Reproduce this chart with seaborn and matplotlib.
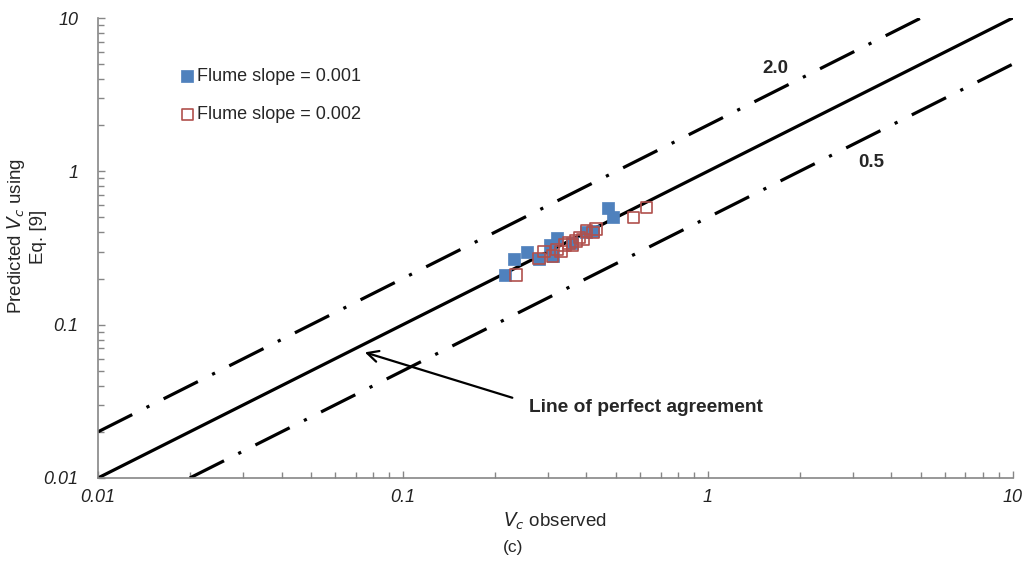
import matplotlib
matplotlib.use("Agg")
import matplotlib.pyplot as plt
import seaborn as sns
import numpy as np
import pandas as pd
from matplotlib.ticker import LogLocator, FixedLocator, FixedFormatter, NullFormatter

sns.set_theme(style="white")
plt.rcParams['font.family'] = ['Liberation Sans', 'DejaVu Sans']

# Data
obs_001 = [0.216, 0.231, 0.255, 0.28, 0.303, 0.31, 0.32, 0.36, 0.40, 0.42, 0.47, 0.49]
pred_001 = [0.21, 0.27, 0.30, 0.27, 0.33, 0.28, 0.37, 0.34, 0.40, 0.41, 0.58, 0.50]
obs_002 = [0.235, 0.28, 0.29, 0.31, 0.32, 0.33, 0.34, 0.35, 0.36, 0.37, 0.38, 0.39, 0.40, 0.42, 0.43, 0.57, 0.63]
pred_002 = [0.21, 0.27, 0.30, 0.28, 0.31, 0.30, 0.33, 0.34, 0.33, 0.35, 0.37, 0.36, 0.41, 0.40, 0.42, 0.50, 0.58]
line_x = [0.01, 10]
upper_x = [0.01, 5]
lower_x = [0.02, 10]
ticks = [0.01, 0.1, 1, 10]
tick_labels = ["0.01", "0.1", "1", "10"]

fig, ax = plt.subplots(figsize=(10.26, 5.63), dpi=100)
fig.subplots_adjust(left=0.0955, right=0.987, top=0.968, bottom=0.151)

lw = 2.3
sns.lineplot(x=line_x, y=[v for v in line_x], ax=ax, color='black', lw=lw)
sns.lineplot(x=upper_x, y=[2 * v for v in upper_x], ax=ax, color='black', lw=lw)
sns.lineplot(x=lower_x, y=[0.5 * v for v in lower_x], ax=ax, color='black', lw=lw)
for ln in ax.lines[1:3]:
    ln.set_dashes((12, 5, 1, 5))
    ln.set_dash_capstyle('butt')

sns.scatterplot(x=obs_001, y=pred_001, ax=ax, marker='s', s=80, color='#4F81BD',
                edgecolor='#4F81BD', linewidth=0.5, label='Flume slope = 0.001', zorder=3)
sns.scatterplot(x=obs_002, y=pred_002, ax=ax, marker='s', s=70, facecolor='none',
                edgecolor='#B0504D', linewidth=1.2, label='Flume slope = 0.002', zorder=4)

ax.set_xscale('log')
ax.set_yscale('log')
ax.set_xlim(0.01, 10)
ax.set_ylim(0.01, 10)

ax.xaxis.set_major_locator(FixedLocator(ticks))
ax.xaxis.set_major_formatter(FixedFormatter(tick_labels))
ax.yaxis.set_major_locator(FixedLocator(ticks))
ax.yaxis.set_major_formatter(FixedFormatter(tick_labels))
ax.xaxis.set_minor_locator(LogLocator(base=10, subs=np.arange(2, 10)))
ax.yaxis.set_minor_locator(LogLocator(base=10, subs=np.arange(2, 10)))
ax.xaxis.set_minor_formatter(NullFormatter())
ax.yaxis.set_minor_formatter(NullFormatter())

ax.tick_params(which='both', direction='in', color='#868686', width=1, left=True, bottom=True)
ax.tick_params(which='major', length=5, labelsize=13)
ax.tick_params(axis='y', which='major', pad=14)
ax.tick_params(axis='x', which='major', pad=8)
ax.tick_params(which='minor', length=4)
for lab in ax.get_xticklabels() + ax.get_yticklabels():
    lab.set_fontstyle('italic')
    lab.set_color('#222222')

for sp in ['top', 'right']:
    ax.spines[sp].set_visible(False)
for sp in ['left', 'bottom']:
    ax.spines[sp].set_color('#868686')
    ax.spines[sp].set_linewidth(1.2)

ax.set_xlabel(r"$V_c$ observed", fontsize=13.5, labelpad=3)
ax.set_ylabel("Predicted $V_c$ using\nEq. [9]", fontsize=13.5)
ax.yaxis.set_label_coords(-0.056, 0.525)

ax.text(1.66, 4.7, "2.0", fontsize=13.5, fontweight='bold', ha='center', va='center')
ax.text(3.45, 1.15, "0.5", fontsize=13.5, fontweight='bold', ha='center', va='center')
ax.annotate("Line of perfect agreement", xy=(0.075, 0.066), xytext=(0.259, 0.029),
            fontsize=13.8, fontweight='bold', ha='left', va='center',
            arrowprops=dict(arrowstyle='->', color='black', lw=1.6, mutation_scale=20,
                            shrinkA=10, shrinkB=0, relpos=(0.0, 0.75)))

ax.legend(loc='center left', bbox_to_anchor=(0.08, 0.8315), frameon=False, fontsize=13,
          handletextpad=0.05, labelspacing=1.2, handlelength=1.0, borderaxespad=0)

fig.text(0.5, 0.027, "(c)", ha='center', va='center', fontsize=12.5)

fig.savefig("out.png", dpi=100)
